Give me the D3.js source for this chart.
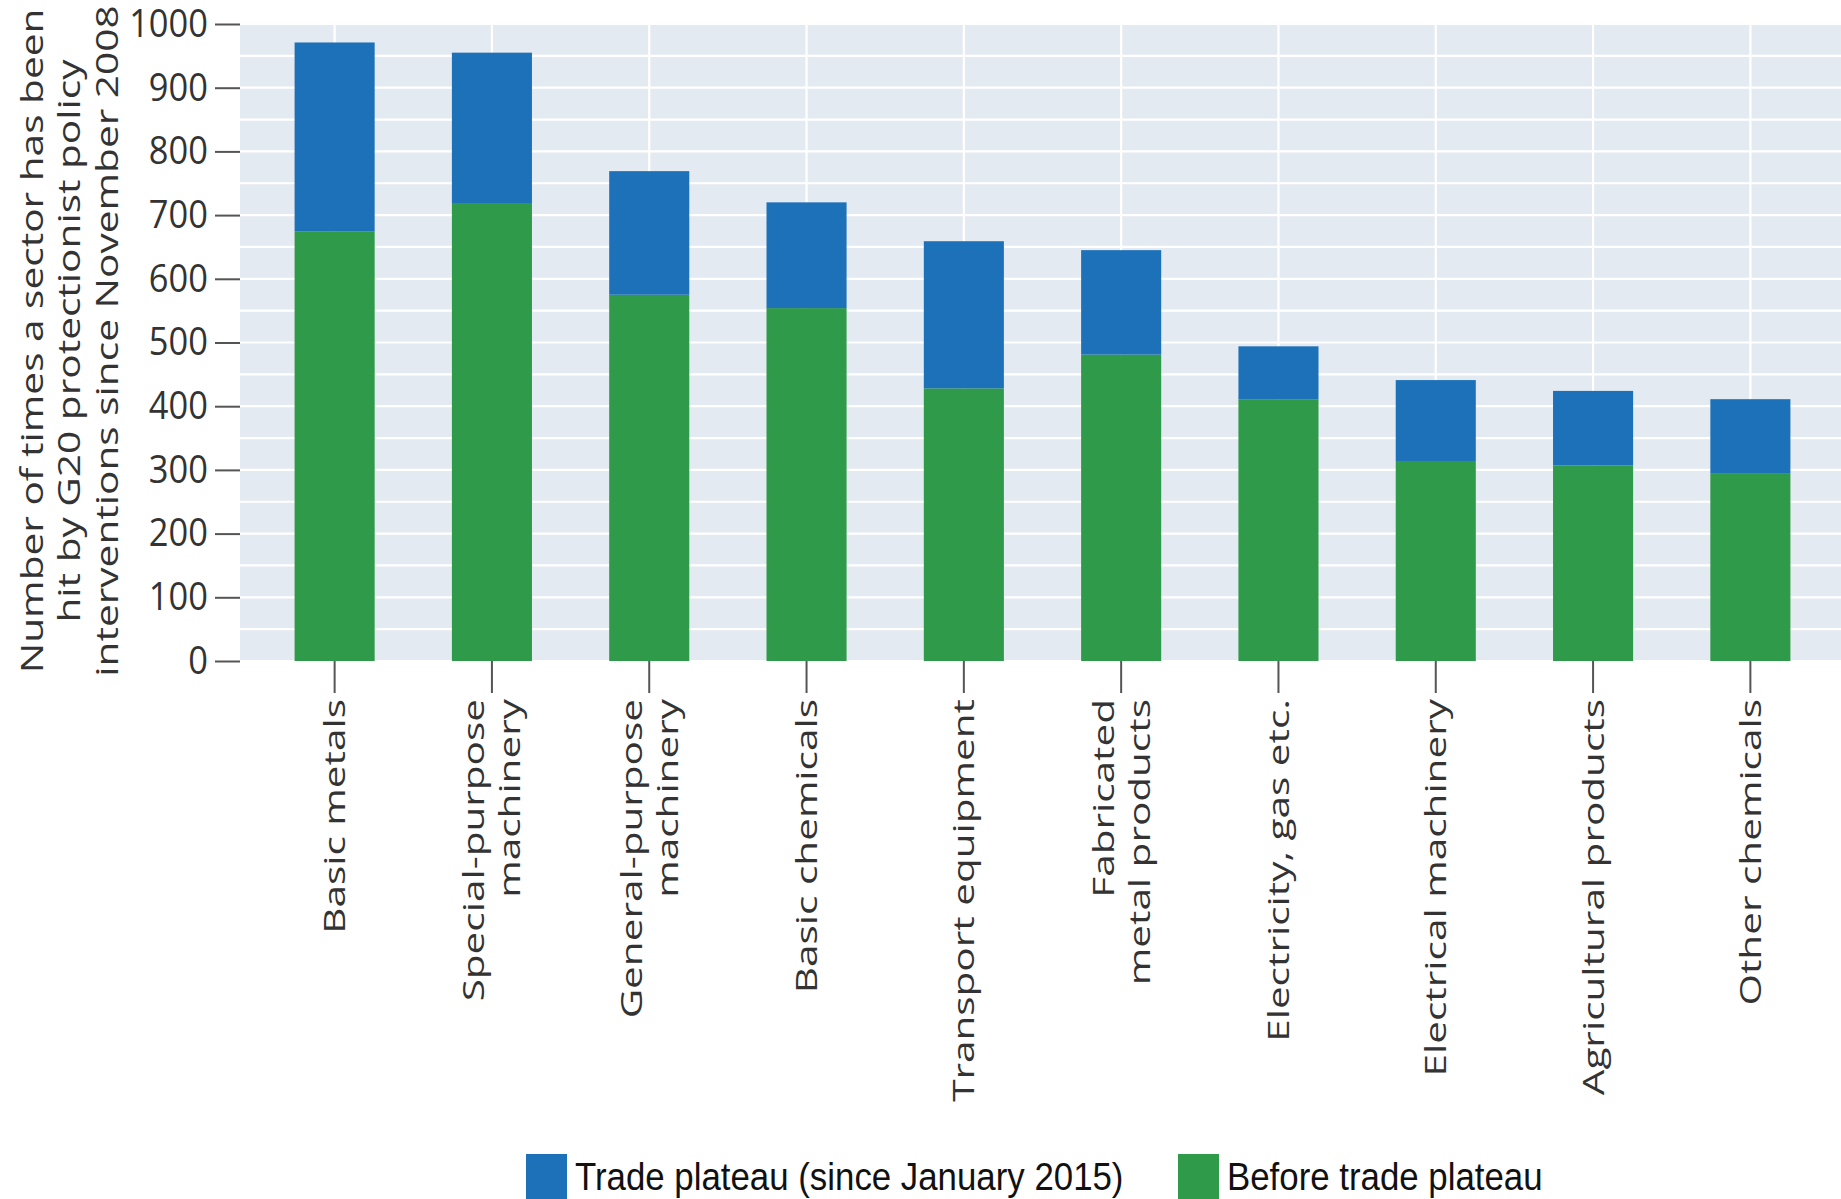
<!DOCTYPE html>
<html>
<head>
<meta charset="utf-8">
<script src="https://cdn.jsdelivr.net/npm/d3@7"></script>
<style>
  html, body { margin: 0; padding: 0; background: #fff; }
  svg { display: block; }
</style>
</head>
<body>
<div id="wrapper"></div>
<script>
// sectors, in the order shown
const sectors = [
    ["Basic metals"],
    ["Special-purpose", "machinery"],
    ["General-purpose", "machinery"],
    ["Basic chemicals"],
    ["Transport equipment"],
    ["Fabricated", "metal products"],
    ["Electricity, gas etc."],
    ["Electrical machinery"],
    ["Agricultural products"],
    ["Other chemicals"]
];
const beforePlateau = [674, 719, 575, 554, 428, 481, 411, 314, 307, 295];
const tradePlateau  = [297, 236, 194, 166, 231, 164, 83, 127, 117, 116];
const yTicks = [0, 100, 200, 300, 400, 500, 600, 700, 800, 900, 1000];
const yGrid = d3.range(0, 1001, 50);
const seriesNames = ["Trade plateau (since January 2015)", "Before trade plateau"];
const yTitle = ["Number of times a sector has been", "hit by G20 protectionist policy", "interventions since November 2008"];

const blue = "#1d71b8";
const green = "#2e9a4a";

function buildPlot() {
    const width = 1841, height = 1199;
    const plot = {left: 240, right: 1845, top: 24, bottom: 661};

    const svg = d3.select("#wrapper").append("svg")
        .attr("width", width)
        .attr("height", height);

    const data = sectors.map((s, i) => ({
        key: s.join(" "),
        lines: s,
        before: beforePlateau[i],
        plateau: tradePlateau[i]
    }));

    const xScaler = d3.scaleBand()
        .domain(data.map(d => d.key))
        .range([plot.left, plot.right])
        .paddingInner(0.491)
        .paddingOuter(0.347);

    const yScaler = d3.scaleLinear()
        .domain([0, 1000])
        .range([plot.bottom, plot.top]);

    // grey panel
    svg.append("rect")
        .attr("x", plot.left)
        .attr("y", plot.top)
        .attr("width", width - plot.left)
        .attr("height", plot.bottom - plot.top)
        .attr("fill", "#e4eaf1");

    // white grid lines
    svg.append("g")
        .selectAll("line")
        .data(yGrid)
        .join("line")
        .attr("x1", plot.left).attr("x2", width)
        .attr("y1", d => yScaler(d)).attr("y2", d => yScaler(d))
        .attr("stroke", "#fff")
        .attr("stroke-width", 2.2);

    svg.append("g")
        .selectAll("line")
        .data(data)
        .join("line")
        .attr("x1", d => xScaler(d.key) + xScaler.bandwidth() / 2)
        .attr("x2", d => xScaler(d.key) + xScaler.bandwidth() / 2)
        .attr("y1", plot.top).attr("y2", plot.bottom)
        .attr("stroke", "#fff")
        .attr("stroke-width", 2.2);

    // stacked bars
    const stack = d3.stack().keys(["before", "plateau"])(data);
    const colours = {before: green, plateau: blue};

    svg.append("g")
        .selectAll("g")
        .data(stack)
        .join("g")
        .attr("fill", s => colours[s.key])
        .selectAll("rect")
        .data(s => s)
        .join("rect")
        .attr("x", d => xScaler(d.data.key))
        .attr("width", xScaler.bandwidth())
        .attr("y", d => yScaler(d[1]))
        .attr("height", d => yScaler(d[0]) - yScaler(d[1]));

    // y axis
    const yAxis = svg.append("g")
        .attr("transform", `translate(${plot.left},0)`)
        .call(d3.axisLeft(yScaler).tickValues(yTicks).tickFormat(d3.format("d")).tickSize(25).tickPadding(7));
    yAxis.select(".domain").remove();
    yAxis.selectAll(".tick line").attr("stroke", "#555").attr("stroke-width", 2);
    yAxis.selectAll(".tick text")
        .attr("fill", "#333")
        .attr("font-family", "'Open Sans', sans-serif")
        .attr("font-size", 34.5)
        .attr("transform", "scale(1,1.12)");

    // x axis
    const xAxis = svg.append("g")
        .attr("transform", `translate(0,${plot.bottom})`)
        .call(d3.axisBottom(xScaler).tickSize(32).tickFormat(""));
    xAxis.select(".domain").remove();
    xAxis.selectAll(".tick line").attr("stroke", "#555").attr("stroke-width", 2);
    xAxis.selectAll(".tick text").remove();

    const lineGap = 36;
    xAxis.selectAll(".tick")
        .append("text")
        .attr("transform", "translate(0,38) scale(1,1.35) rotate(-90)")
        .attr("text-anchor", "end")
        .attr("fill", "#333")
        .attr("font-family", "'Open Sans', sans-serif")
        .attr("font-size", 30)
        .each(function(key) {
            const d = data.find(e => e.key === key);
            const n = d.lines.length;
            d3.select(this).selectAll("tspan")
                .data(d.lines)
                .join("tspan")
                .attr("x", 0)
                .attr("y", (l, i) => (i - (n - 1) / 2) * lineGap)
                .attr("dy", "0.35em")
                .text(l => l);
        });

    // y axis title
    svg.append("text")
        .attr("transform", "translate(43,341) scale(1,1.31) rotate(-90)")
        .attr("text-anchor", "middle")
        .attr("fill", "#333")
        .attr("font-family", "'Open Sans', sans-serif")
        .attr("font-size", 31)
        .selectAll("tspan")
        .data(yTitle)
        .join("tspan")
        .attr("x", 0)
        .attr("y", (d, i) => i * 37.5)
        .text(d => d);

    // legend
    const legendItems = [
        {name: seriesNames[0], colour: blue, x: 526},
        {name: seriesNames[1], colour: green, x: 1178}
    ];
    const legend = svg.append("g")
        .selectAll("g")
        .data(legendItems)
        .join("g")
        .attr("transform", d => `translate(${d.x},1154)`);
    legend.append("rect")
        .attr("width", 41)
        .attr("height", 50)
        .attr("fill", d => d.colour);
    legend.append("text")
        .attr("transform", "translate(49,36) scale(0.893,1)")
        .attr("fill", "#111")
        .attr("font-family", "'Liberation Sans', Arial, sans-serif")
        .attr("font-size", 39)
        .text(d => d.name);
}

buildPlot();
</script>
</body>
</html>
